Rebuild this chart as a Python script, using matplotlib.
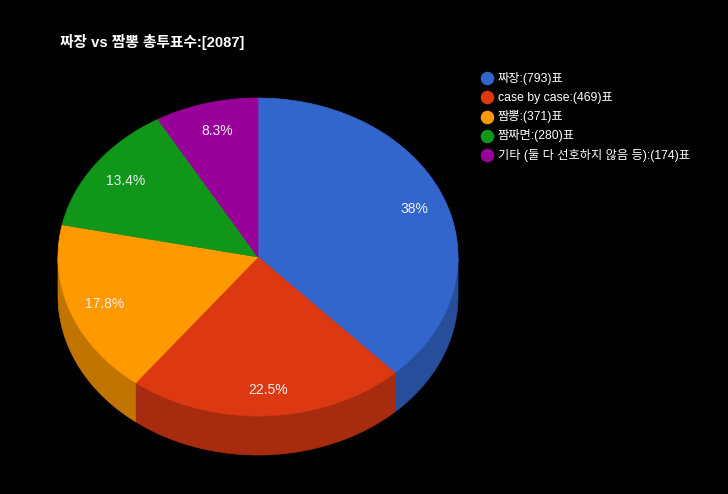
import numpy as np
import matplotlib
matplotlib.use("Agg")
import matplotlib.pyplot as plt
from matplotlib.patches import Polygon
from matplotlib.colors import to_rgb

plt.rcParams['font.family'] = ['Liberation Sans', 'Noto Sans CJK KR', 'DejaVu Sans']

title = "짜장 vs 짬뽕 총투표수:[2087]"
categories = ["짜장", "case by case", "짬뽕", "짬짜면", "기타 (둘 다 선호하지 않음 등)"]
votes = [793, 469, 371, 280, 174]
colors = ["#3366cc", "#dc3912", "#ff9900", "#109618", "#990099"]

W, H = 728, 494
fig = plt.figure(figsize=(W / 100, H / 100), dpi=100, facecolor="black")
ax = fig.add_axes([0, 0, 1, 1])
ax.set_xlim(0, W)
ax.set_ylim(H, 0)
ax.axis("off")
ax.set_facecolor("black")

cx, cy, rx, ry, depth = 258, 257, 200, 159, 39

total = sum(votes)
fracs = np.array(votes) / total
starts = np.concatenate([[0], np.cumsum(fracs)[:-1]])

def pt(theta):
    # theta: clockwise from 12 o'clock, radians
    return cx + rx * np.sin(theta), cy - ry * np.cos(theta)

def darker(c, f=0.76):
    r, g, b = to_rgb(c)
    return (r * f, g * f, b * f)

# side walls (front half only: 90..270 deg)
for s, f, c in zip(starts, fracs, colors):
    a0, a1 = s * 2 * np.pi, (s + f) * 2 * np.pi
    lo, hi = max(a0, np.pi / 2), min(a1, 3 * np.pi / 2)
    if hi <= lo:
        continue
    t = np.linspace(lo, hi, 200)
    x, y = pt(t)
    xs = np.concatenate([x, x[::-1]])
    ys = np.concatenate([y, (y + depth)[::-1]])
    ax.add_patch(Polygon(np.column_stack([xs, ys]), closed=True,
                         facecolor=darker(c), edgecolor=darker(c), lw=0.5))

# top faces
for s, f, c in zip(starts, fracs, colors):
    a0, a1 = s * 2 * np.pi, (s + f) * 2 * np.pi
    t = np.linspace(a0, a1, 300)
    x, y = pt(t)
    xs = np.concatenate([[cx], x])
    ys = np.concatenate([[cy], y])
    ax.add_patch(Polygon(np.column_stack([xs, ys]), closed=True,
                         facecolor=c, edgecolor=c, lw=0.5))

# percentage labels
for s, f in zip(starts, fracs):
    mid = (s + f / 2) * 2 * np.pi
    k = 0.83
    x = cx + rx * k * np.sin(mid) + 2
    y = cy - ry * k * np.cos(mid) + 1
    p = round(f * 100, 1)
    lab = (f"{p:.1f}".rstrip("0").rstrip(".")) + "%"
    ax.text(x, y, lab, color="#eeeeee", fontsize=10, ha="center", va="center")

# title
ax.text(60, 42, title, color="white", fontsize=10.6, fontweight="bold",
        ha="left", va="center")

# legend
for i, (cat, v, c) in enumerate(zip(categories, votes, colors)):
    ly = 78.3 + i * 19.2
    ax.scatter([487], [ly], s=95, color=c, marker="o", linewidths=0)
    ax.text(498, ly, f"{cat}:({v})표", color="white", fontsize=8.8,
            ha="left", va="center")

fig.savefig("out.png", dpi=100, facecolor="black")
